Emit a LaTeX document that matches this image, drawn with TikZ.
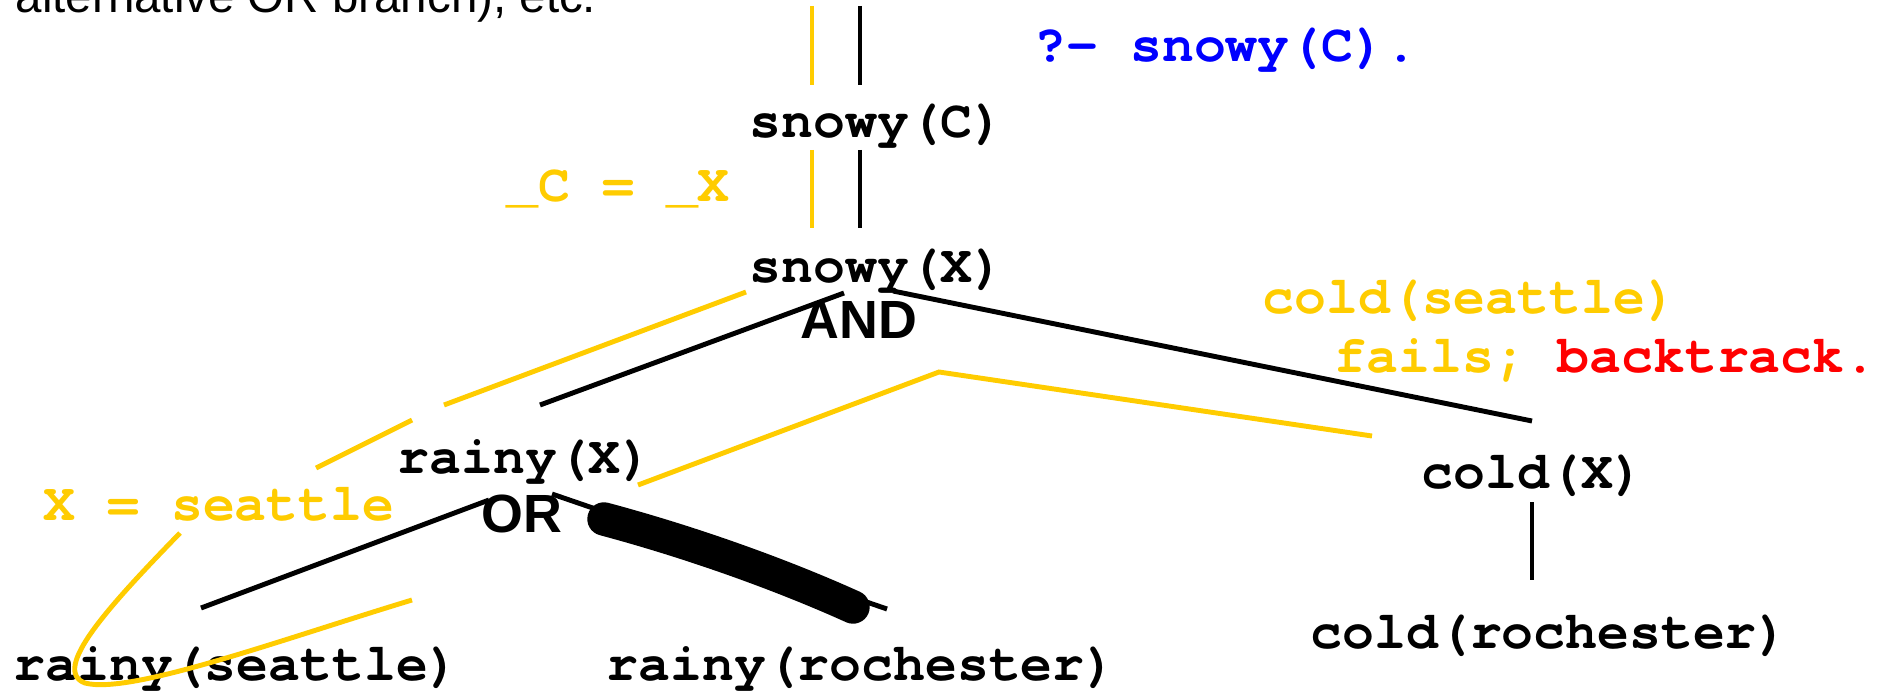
\documentclass[tikz,border=0pt]{standalone}
\usepackage{fontspec}
\setmainfont{Liberation Sans}
\setsansfont{Liberation Sans}
\setmonofont{TeX Gyre Cursor}
\usepackage{xcolor}
\definecolor{traceYellow}{HTML}{FFCC00}
\definecolor{queryBlue}{HTML}{0000FF}
\definecolor{failRed}{HTML}{FF0000}
\usetikzlibrary{positioning}
\tikzset{%
  goalText/.style={
    inner sep=0pt, anchor=base west,
    font=\ttfamily\bfseries\fontsize{15.1}{17}\selectfont},
  traceText/.style={goalText, text=traceYellow},
  opLabel/.style={
    inner sep=0pt, anchor=base west,
    font=\sffamily\bfseries\fontsize{15.3}{18}\selectfont},
  treeEdge/.style={line width=1.4pt, black},
  traceEdge/.style={line width=1.4pt, traceYellow},
}

\begin{document}
\begin{tikzpicture}[x=0.01cm, y=-0.01cm]
  \useasboundingbox (0,0) rectangle (1880,691);

  % caption left over from the slide above
  \node[inner sep=0pt, anchor=base west, font=\sffamily\fontsize{13.5}{16}\selectfont]
    (caption) at (15,13) {alternative OR branch), etc.};

  % goals of the proof tree
  \node[goalText, text=queryBlue] (query) at (1034,62)  {?- snowy(C).};
  \node[goalText] (snowyC)    at (749,137)  {snowy(C)};
  \node[goalText] (snowyX)    at (749,282)  {snowy(X)};
  \node[goalText] (rainyX)    at (397,473)  {rainy(X)};
  \node[goalText] (coldX)     at (1421,488) {cold(X)};
  \node[goalText] (rainySea)  at (13,680)   {rainy(seattle)};
  \node[goalText] (rainyRoch) at (606,680)  {rainy(rochester)};
  \node[goalText] (coldRoch)  at (1310,648) {cold(rochester)};
  \node[opLabel]  (andOp)     at (800,338)  {AND};
  \node[opLabel]  (orOp)      at (481,532)  {OR};

  % trace annotations
  \node[traceText] (unifyCX)   at (506,202)  {\_C = \_X};
  \node[traceText] (bindX)     at (43,520)   {X = seattle};
  \node[traceText] (coldSea)   at (1262,313) {cold(seattle)};
  \node[traceText] (failsNote) at (1334,372) {fails; \textcolor{failRed}{backtrack.}};

  % end points of the edges
  \coordinate (topC)    at (860,6);
  \coordinate (inC)     at (860,85);
  \coordinate (outC)    at (860,150);
  \coordinate (inX)     at (860,228);
  \coordinate (andL)    at (844,293);
  \coordinate (andR)    at (893,291);
  \coordinate (rainyIn) at (540,405);
  \coordinate (coldIn)  at (1532,421);
  \coordinate (orL)     at (489,500);
  \coordinate (orR)     at (552,494);
  \coordinate (seaIn)   at (201,608);
  \coordinate (rochIn)  at (887,609);
  \coordinate (coldOut) at (1532,502);
  \coordinate (rochOut) at (1532,580);

  % tree edges
  \draw[treeEdge] (topC) -- (inC);
  \draw[treeEdge] (outC) -- (inX);
  \draw[treeEdge] (andL) -- (rainyIn);
  \draw[treeEdge] (andR) -- (coldIn);
  \draw[treeEdge] (orL) -- (seaIn);
  \draw[treeEdge] (orR) -- (rochIn);
  \draw[treeEdge] (coldOut) -- (rochOut);

  % crossed-out branch
  \draw[line width=9.5pt, line cap=round] (604,519) .. controls (690,542) and (780,574) .. (853,607);

  % search trace
  \coordinate (trTop)    at (812,6);
  \coordinate (trC)      at (812,85);
  \coordinate (trC2)     at (812,150);
  \coordinate (trX)      at (812,228);
  \coordinate (trAnd)    at (746,292);
  \coordinate (trMid)    at (444,405);
  \coordinate (trMid2)   at (412,420);
  \coordinate (trRainy)  at (316,468);
  \coordinate (trHook)   at (180,533);
  \coordinate (trBack)   at (412,600);
  \coordinate (trUp)     at (638,485);
  \coordinate (trPeak)   at (939,372);
  \coordinate (trCold)   at (1372,436);
  \draw[traceEdge] (trTop) -- (trC);
  \draw[traceEdge] (trC2) -- (trX);
  \draw[traceEdge] (trAnd) -- (trMid);
  \draw[traceEdge] (trMid2) -- (trRainy);
  \draw[traceEdge] (trHook) .. controls (110,605) and (50,670) .. (85,683)
                   .. controls (130,695) and (280,640) .. (trBack);
  \draw[traceEdge] (trUp) -- (trPeak) -- (trCold);
\end{tikzpicture}
\end{document}
